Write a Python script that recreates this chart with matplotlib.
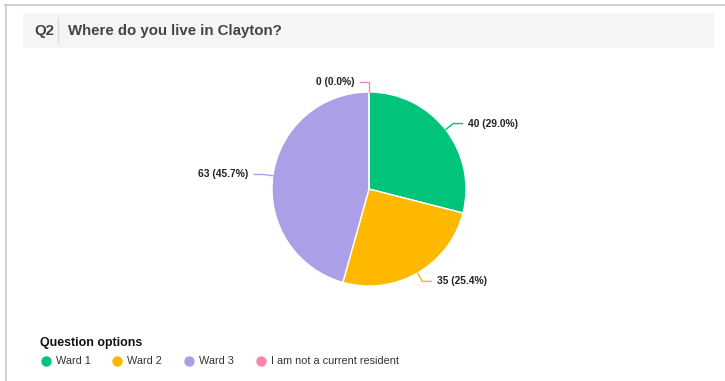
import numpy as np
import matplotlib.pyplot as plt
from matplotlib.patches import Rectangle
from matplotlib.lines import Line2D

plt.rcParams['font.family'] = ['Liberation Sans', 'DejaVu Sans']

# survey answers
options = ["Ward 1", "Ward 2", "Ward 3", "I am not a current resident"]
counts = [40, 35, 63, 0]
percents = [29.0, 25.4, 45.7, 0.0]
colors = ["#00c47a", "#ffb800", "#ab9fe8", "#fb86ac"]

W, H = 725, 381
fig = plt.figure(figsize=(W / 100, H / 100), dpi=100)

def fx(x):
    return x / W

def fy(y):
    return 1 - y / H

# outer frame (top + left edge)
fig.add_artist(Line2D([fx(5), fx(725)], [fy(5), fy(5)], color="#c8c8c8", lw=1.2))
fig.add_artist(Line2D([fx(6), fx(6)], [fy(5), fy(381)], color="#c8c8c8", lw=1.2))

# question header band
fig.add_artist(Rectangle((fx(23), fy(48)), fx(714) - fx(23), fy(13) - fy(48),
                         facecolor="#f5f5f5", edgecolor="none"))
fig.add_artist(Line2D([fx(58), fx(58)], [fy(18), fy(43)], color="#dddddd", lw=1))
fig.text(fx(34), fy(31), "Q2", fontsize=10.8, fontweight="bold", color="#444444", va="center")
fig.text(fx(68), fy(31), "Where do you live in Clayton?", fontsize=10.8,
         fontweight="bold", color="#444444", va="center")

# pie
cx, cy, r = 369, 189, 97
ax = fig.add_axes([fx(cx - r), fy(cy + r), 2 * r / W, 2 * r / H])
wedges, _ = ax.pie(counts, colors=colors, startangle=90, counterclock=False,
                   radius=1, wedgeprops=dict(edgecolor="white", linewidth=1))
ax.set_xlim(-1, 1)
ax.set_ylim(-1, 1)
ax.set_aspect("equal")
ax.axis("off")

# value labels with leader lines
for w, n, p, c in zip(wedges, counts, percents, colors):
    ang = np.deg2rad((w.theta1 + w.theta2) / 2)
    x0, y0 = np.cos(ang), np.sin(ang)
    x1, y1 = 1.1 * x0, 1.1 * y0
    side = 1 if x0 > 1e-6 else -1
    x2 = x1 + side * 0.093
    ax.plot([x0, x1, x2], [y0, y1, y1], color=c, lw=1, clip_on=False)
    ax.text(x2 + side * 0.06, y1, f"{n} ({p:.1f}%)", fontsize=7.4, fontweight="bold",
            color="#222222", va="center", ha="left" if side > 0 else "right")

# legend
fig.text(fx(40), fy(343), "Question options", fontsize=8.9, fontweight="bold",
         color="#111111", va="center")
xs = [46, 117, 189, 261]
for x, lab, c in zip(xs, options, colors):
    fig.add_artist(Line2D([fx(x)], [fy(361)], marker="o", markersize=7.5,
                          markerfacecolor=c, markeredgecolor="none", linestyle="none"))
    fig.text(fx(x + 10), fy(361), lab, fontsize=7.8, color="#333333", va="center")

fig.savefig("out.png", dpi=100)
